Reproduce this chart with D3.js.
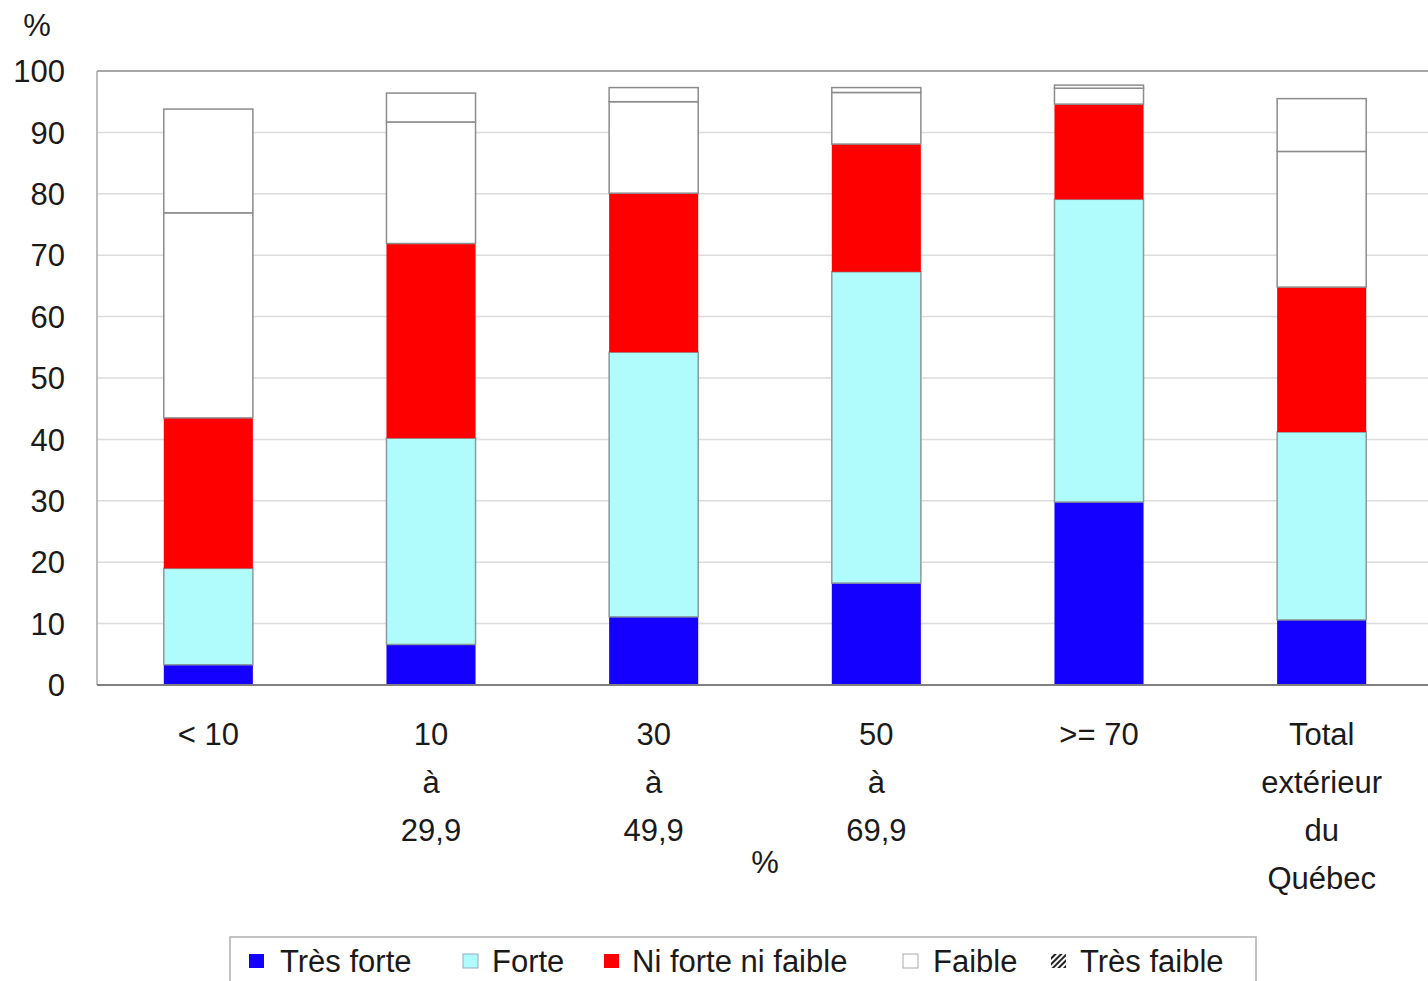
<!DOCTYPE html>
<html><head><meta charset="utf-8">
<script src="https://cdn.jsdelivr.net/npm/d3@7"></script>
<style>
html,body{margin:0;padding:0;background:#fff;}
svg{display:block;font-family:"Liberation Sans",Arial,sans-serif;}
</style></head>
<body><svg id="c" width="1428" height="981"></svg>
<script>
const categories = [["< 10"],["10","à","29,9"],["30","à","49,9"],["50","à","69,9"],[">= 70"],["Total","extérieur","du","Québec"]];
const seriesNames = ["Très forte","Forte","Ni forte ni faible","Faible","Très faible"];
const tresForte   = [3.3, 6.6, 11.1, 16.6, 29.8, 10.6];
const forte       = [15.7, 33.6, 43.1, 50.7, 49.3, 30.6];
const niForte     = [24.5, 31.7, 25.9, 20.8, 15.5, 23.6];
const faible      = [33.4, 19.8, 14.9, 8.4, 2.6, 22.1];
const tresFaible  = [16.9, 4.7, 2.3, 0.8, 0.5, 8.6];
const yTicks = [0,10,20,30,40,50,60,70,80,90,100];

const colors = ["#1400ff","#b0fcfc","#ff0000","#ffffff","#ffffff"];
const strokes = [null,"#8a9a9a",null,"#8c8c8c","#8c8c8c"];

const svg = d3.select("#c");
const defs = svg.append("defs");
const pat = defs.append("pattern").attr("id","hatch").attr("patternUnits","userSpaceOnUse")
  .attr("width",4).attr("height",4).attr("patternTransform","rotate(45)");
pat.append("rect").attr("width",4).attr("height",4).attr("fill","#fff");
pat.append("rect").attr("width",2).attr("height",4).attr("fill","#222");

const mLeft = 97, mTop = 71, mBottom = 685, plotW = 1336;
const keys = categories.map((c,i)=>i);
const x = d3.scaleBand().domain(keys).range([mLeft, mLeft+plotW]).paddingInner(0.6).paddingOuter(0.3);
const y = d3.scaleLinear().domain([0,100]).range([mBottom, mTop]);

// gridlines
svg.append("g").selectAll("line").data(yTicks.filter(t=>t>0 && t<100)).join("line")
  .attr("x1",mLeft).attr("x2",mLeft+plotW).attr("y1",d=>y(d)).attr("y2",d=>y(d))
  .attr("stroke","#dcdcdc").attr("stroke-width",1.5);
// plot border
svg.append("line").attr("x1",mLeft).attr("x2",mLeft+plotW).attr("y1",y(100)).attr("y2",y(100)).attr("stroke","#a8a8a8").attr("stroke-width",2);
svg.append("line").attr("x1",mLeft).attr("x2",mLeft).attr("y1",y(100)).attr("y2",y(0)).attr("stroke","#a8a8a8").attr("stroke-width",1.5);

// stacked data
const table = keys.map(i=>({i, "Très forte":tresForte[i], "Forte":forte[i], "Ni forte ni faible":niForte[i], "Faible":faible[i], "Très faible":tresFaible[i]}));
const stack = d3.stack().keys(seriesNames)(table);

const bw = x.bandwidth();
stack.forEach((layer,k)=>{
  svg.append("g").selectAll("rect").data(layer).join("rect")
    .attr("x",d=>x(d.data.i)).attr("width",bw)
    .attr("y",d=>y(d[1])).attr("height",d=>y(d[0])-y(d[1]))
    .attr("fill",colors[k])
    .attr("stroke",strokes[k]||"none").attr("stroke-width",strokes[k]?1.5:0);
});

// bottom axis line
svg.append("line").attr("x1",mLeft).attr("x2",mLeft+plotW).attr("y1",y(0)).attr("y2",y(0)).attr("stroke","#808080").attr("stroke-width",2);

const tc = "#1a1a1a";
// y tick labels
svg.append("g").selectAll("text").data(yTicks).join("text")
  .attr("x",65).attr("y",d=>y(d)).attr("dy","0.36em").attr("text-anchor","end")
  .attr("font-size",31).attr("fill",tc).text(d=>d);
svg.append("text").attr("x",37).attr("y",25).attr("dy","0.36em").attr("text-anchor","middle")
  .attr("font-size",31).attr("fill",tc).text("%");

// x labels
const xl = svg.append("g");
categories.forEach((lines,i)=>{
  lines.forEach((ln,j)=>{
    xl.append("text").attr("x",x(i)+bw/2).attr("y",734+j*48).attr("dy","0.36em")
      .attr("text-anchor","middle").attr("font-size",31).attr("fill",tc).text(ln);
  });
});
svg.append("text").attr("x",mLeft+plotW/2).attr("y",862).attr("dy","0.36em").attr("text-anchor","middle")
  .attr("font-size",31).attr("fill",tc).text("%");

// legend
const lg = svg.append("g");
lg.append("rect").attr("x",230).attr("y",937).attr("width",1026).attr("height",60)
  .attr("fill","#fff").attr("stroke","#b0b0b0").attr("stroke-width",1.5);
const legPos = [[249,280],[463,492],[604,632],[903,933],[1051,1080]];
const legFill = ["#1400ff","#b0fcfc","#ff0000","#ffffff","url(#hatch)"];
const legStroke = ["none","#9ab","none","#aaa","none"];
seriesNames.forEach((n,k)=>{
  lg.append("rect").attr("x",legPos[k][0]).attr("y",954).attr("width",15).attr("height",14)
    .attr("fill",legFill[k]).attr("stroke",legStroke[k]).attr("stroke-width",1);
  lg.append("text").attr("x",legPos[k][1]).attr("y",961).attr("dy","0.36em")
    .attr("font-size",31).attr("fill",tc).text(n);
});
</script></body></html>
